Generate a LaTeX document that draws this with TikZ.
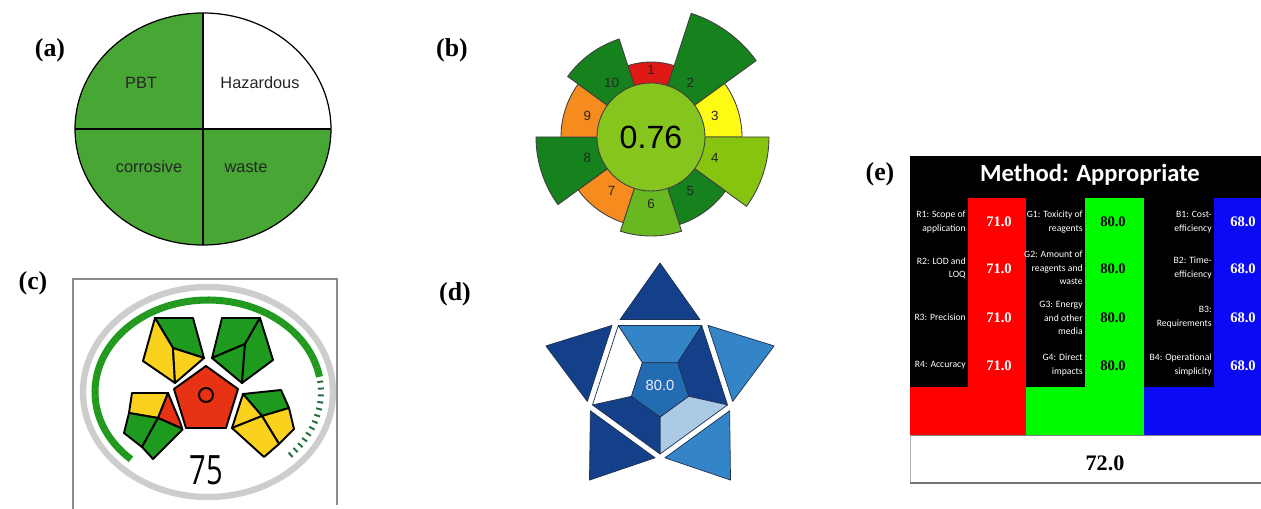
\documentclass[tikz,border=0pt]{standalone}
\usepackage{fontspec}
\usepackage{graphicx}
\setmainfont{Liberation Serif}
\newfontfamily\arialfont{Liberation Sans}
\newfontfamily\calibrifont{Carlito}
\newfontfamily\gaugefont{Open Sans}

\definecolor{pbtgreen}{RGB}{72,166,52}
\definecolor{agred}{RGB}{222,24,20}
\definecolor{agdark}{RGB}{22,130,30}
\definecolor{agyellow}{RGB}{255,250,20}
\definecolor{aglime}{RGB}{135,196,16}
\definecolor{agmid}{RGB}{104,184,34}
\definecolor{agorange}{RGB}{246,140,30}
\definecolor{agcentre}{RGB}{134,196,30}
\definecolor{gpgreen}{RGB}{30,155,30}
\definecolor{gpyellow}{RGB}{250,210,30}
\definecolor{gpred}{RGB}{232,50,20}
\definecolor{ringgray}{RGB}{205,205,205}
\definecolor{tickgreen}{RGB}{35,110,60}
\definecolor{stdark}{RGB}{20,64,138}
\definecolor{stmid}{RGB}{52,132,200}
\definecolor{stlight}{RGB}{172,202,230}
\definecolor{stcentre}{RGB}{36,108,178}
\definecolor{stline}{RGB}{30,50,80}
\definecolor{rgbred}{RGB}{255,0,0}
\definecolor{rgbgreen}{RGB}{0,250,0}
\definecolor{rgbblue}{RGB}{10,10,245}

\tikzset{
  panellabel/.style={font=\fontsize{14.7}{15}\selectfont\bfseries},
  pielabel/.style={font=\arialfont\fontsize{9.3}{10}\selectfont, text=black!85},
  wedge/.style={draw=black!75, line width=0.5pt},
  wheelnum/.style={font=\arialfont\fontsize{7.6}{8}\selectfont, text=black!85},
  gapi/.style={draw=black, line width=1.1pt, line join=round},
  starpart/.style={draw=stline, line width=0.4pt, line join=round},
  critlabel/.style={font=\calibrifont\fontsize{5.5}{7.6}\selectfont, text=white, align=right, anchor=east},
  score/.style={font=\fontsize{8.3}{9}\selectfont\bfseries},
}

\begin{document}
\begin{tikzpicture}[x=0.02cm,y=-0.02cm]
\tikzstyle{every node}+=[inner sep=0pt]
\useasboundingbox (0,0) rectangle (1261,509);

% (a)
\node [panellabel] (laba) at (50,50) {(a)};
\fill [pbtgreen] (203,129) ellipse (128 and 116);
\fill [white] (203,129) -- (331,129) arc [start angle=0, end angle=-90, x radius=128, y radius=116] -- cycle;
\draw [black, line width=0.7pt] (203,129) ellipse (128 and 116);
\draw [black, line width=0.7pt] (203,13) -- (203,245);
\draw [black, line width=0.7pt] (75,129) -- (331,129);
\node [pielabel] (pbt) at (141,83) {PBT};
\node [pielabel] (hazardous) at (260,83) {Hazardous};
\node [pielabel] (corrosive) at (149,167) {corrosive};
\node [pielabel] (waste) at (246,167) {waste};

% (b)
\node [panellabel] (labb) at (452,50) {(b)};
\begin{scope}[shift={(651,137)}, yscale=-1]
\foreach \n/\r/\col in {1/75/agred, 2/130/agdark, 3/91/agyellow, 4/118/aglime, 5/92/agdark,
                        6/99/agmid, 7/90/agorange, 8/115/agdark, 9/90/agorange, 10/103/agdark} {
  \pgfmathsetmacro{\ang}{90-(\n-1)*36}
  \filldraw [wedge, fill=\col] (0,0) -- ({\ang-18}:\r) arc [start angle=\ang-18, end angle=\ang+18, radius=\r] -- cycle;
}
\filldraw [wedge, fill=agcentre] (0,0) circle (54);
\foreach \n in {1,...,10} {
  \pgfmathsetmacro{\ang}{90-(\n-1)*36}
  \node [wheelnum] (num\n) at (\ang:67) {\n};
}
\node (agscore) at (0,0) {\arialfont\fontsize{18.3}{19}\selectfont 0.76};
\end{scope}

% (c)
\node [panellabel] (labc) at (33,283) {(c)};
\draw [black!45, line width=0.8pt] (73,509) -- (73,279) -- (337,279) -- (337,505);
\draw [ringgray, line width=3.6pt] (208,392) ellipse (125 and 105);
\begin{scope}[shift={(208,392)}, yscale=-1]
\draw [gpgreen, line width=4pt] (227:113 and 92) arc [start angle=227, end angle=9.5, x radius=113, y radius=92];
\draw [brown!60!gpgreen, line width=2pt, dash pattern=on 0.6pt off 3.4pt, opacity=0.5] (225:113 and 92) arc [start angle=225, end angle=12, x radius=113, y radius=92];
\draw [tickgreen, line width=3.4pt, dash pattern=on 1.1pt off 2.8pt] (7:113 and 92) arc [start angle=7, end angle=-45, x radius=113, y radius=92];
\end{scope}
\filldraw [gapi, fill=gpgreen] (155,318) -- (193,318) -- (204,358) -- (173,348) -- cycle;
\filldraw [gapi, fill=gpyellow] (155,318) -- (173,348) -- (175,383) -- (143,361) -- cycle;
\filldraw [gapi, fill=gpyellow] (173,348) -- (204,358) -- (175,383) -- cycle;
\filldraw [gapi, fill=gpgreen] (222,318) -- (260,318) -- (245,344) -- (212,358) -- cycle;
\filldraw [gapi, fill=gpgreen] (212,358) -- (245,344) -- (242,383) -- cycle;
\filldraw [gapi, fill=gpgreen] (260,318) -- (273,360) -- (242,383) -- (245,344) -- cycle;
\filldraw [gapi, fill=gpyellow] (132,393) -- (168,393) -- (158,418) -- (129,413) -- cycle;
\filldraw [gapi, fill=gpred] (168,393) -- (183,429) -- (158,418) -- cycle;
\filldraw [gapi, fill=gpgreen] (129,413) -- (158,418) -- (142,447) -- (124,433) -- cycle;
\filldraw [gapi, fill=gpgreen] (158,418) -- (183,429) -- (153,459) -- (142,447) -- cycle;
\filldraw [gapi, fill=gpgreen] (243,394) -- (281,390) -- (289,408) -- (262,416) -- cycle;
\filldraw [gapi, fill=gpyellow] (243,394) -- (262,416) -- (232,428) -- cycle;
\filldraw [gapi, fill=gpyellow] (262,416) -- (289,408) -- (294,429) -- (279,444) -- cycle;
\filldraw [gapi, fill=gpyellow] (232,428) -- (262,416) -- (279,444) -- (264,457) -- cycle;
\filldraw [gapi, fill=gpred, preaction={draw=white, line width=3.2pt}] (206,366) -- (238,389) -- (226,428) -- (186,428) -- (174,389) -- cycle;
\draw [black, line width=1.1pt] (206,395) circle (7);
\node (gaugescore) at (206,470) {\scalebox{0.72}[1]{\gaugefont\fontsize{23}{23}\selectfont 75}};

% (d)
\node [panellabel] (labd) at (455,294) {(d)};
\begin{scope}[shift={(660,383)}, yscale=-1]
\foreach \a/\col in {90/stdark, 18/stmid, -54/stmid, -126/stdark, 162/stdark}
  \filldraw [starpart, fill=\col, rotate=90-\a] (-40,63.4) -- (40,63.4) -- (0,120) -- cycle;
\path (126:71) coordinate (o1) (54:71) coordinate (o2) (-18:71) coordinate (o3)
      (-90:71) coordinate (o4) (198:71) coordinate (o5);
\path (0,-4) ++(126:30) coordinate (i1) (0,-4) ++(54:30) coordinate (i2) (0,-4) ++(-18:30) coordinate (i3)
      (0,-4) ++(-90:30) coordinate (i4) (0,-4) ++(198:30) coordinate (i5);
\filldraw [starpart, fill=stmid] (o1) -- (o2) -- (i2) -- (i1) -- cycle;
\filldraw [starpart, fill=stdark] (o2) -- (o3) -- (i3) -- (i2) -- cycle;
\filldraw [starpart, fill=stlight] (o3) -- (o4) -- (i4) -- (i3) -- cycle;
\filldraw [starpart, fill=stdark] (o4) -- (o5) -- (i5) -- (i4) -- cycle;
\filldraw [starpart, fill=white] (o5) -- (o1) -- (i1) -- (i5) -- cycle;
\filldraw [starpart, fill=stcentre] (i1) -- (i2) -- (i3) -- (i4) -- (i5) -- cycle;
\node [text=white!92!blue] (starscore) at (0,-2) {\arialfont\fontsize{8.4}{9}\selectfont 80.0};
\end{scope}

% (e)
\node [panellabel] (labe) at (880,174) {(e)};
\fill [black] (910,156) rectangle (1261,387);
\fill [rgbred] (968,198) rectangle (1026,387);
\fill [rgbred] (910,387) rectangle (1026,435);
\fill [rgbgreen] (1085,198) rectangle (1144,387);
\fill [rgbgreen] (1026,387) rectangle (1144,435);
\fill [rgbblue] (1214,198) rectangle (1261,387);
\fill [rgbblue] (1144,387) rectangle (1261,435);
\draw [black!50, line width=0.5pt] (910,435) -- (1261,435);
\draw [black!30, line width=0.5pt] (910,435) -- (910,483);
\draw [black!55, line width=1.3pt] (910,483) -- (1261,483);
\node [text=white] (etitle) at (1090,175) {\calibrifont\bfseries\fontsize{14}{15}\selectfont Method: Appropriate};
\node [critlabel] (r1) at (966,222) {R1: Scope of\\application};
\node [critlabel] (r2) at (966,268) {R2: LOD and\\LOQ};
\node [critlabel] (r3) at (966,317) {R3: Precision};
\node [critlabel] (r4) at (966,365) {R4: Accuracy};
\node [critlabel] (g1) at (1083,222) {G1: Toxicity of\\reagents};
\node [critlabel] (g2) at (1083,268) {G2: Amount of\\reagents and\\waste};
\node [critlabel] (g3) at (1083,318) {G3: Energy\\and other\\media};
\node [critlabel] (g4) at (1083,365) {G4: Direct\\impacts};
\node [critlabel] (b1) at (1212,222) {B1: Cost-\\efficiency};
\node [critlabel] (b2) at (1212,268) {B2: Time-\\efficiency};
\node [critlabel] (b3) at (1212,317) {B3:\\Requirements};
\node [critlabel] (b4) at (1212,365) {B4: Operational\\simplicity};
\foreach \y [count=\i] in {222,269,318,366} {
  \node [score, text=white] (rs\i) at (999,\y) {71.0};
  \node [score, text=black] (gs\i) at (1113,\y) {80.0};
  \node [score, text=white] (bs\i) at (1243,\y) {68.0};
}
\node (total) at (1105,463) {\fontsize{12.6}{13}\selectfont\bfseries 72.0};
\end{tikzpicture}
\end{document}
